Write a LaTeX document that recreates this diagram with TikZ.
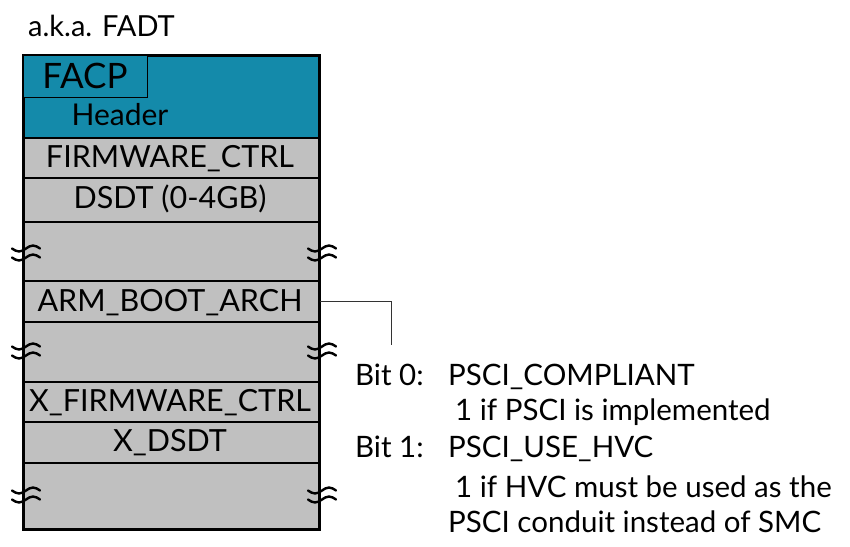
\documentclass[tikz,border=0pt]{standalone}
\usepackage{fontspec}
\setmainfont{Lato}
\definecolor{cellgray}{RGB}{192,192,192}
\definecolor{hdrteal}{RGB}{20,138,170}
\begin{document}
\begin{tikzpicture}[x=1pt,y=-1pt,
  row/.style={draw=black, line width=1.5pt, fill=cellgray, minimum width=295pt,
    inner sep=0pt, anchor=north west},
  lbl/.style={font=\fontsize{30.5}{30.5}\selectfont, anchor=base, inner sep=0pt},
  note/.style={font=\fontsize{29.5}{29.5}\selectfont, anchor=base west, inner sep=0pt},
  brk/.style={line width=2.4pt, line cap=round},
  conn/.style={draw=black!80, line width=1pt},
  brkmark/.pic={
    \draw[brk] (-14,3.5) sin (-7,6.5) cos (0,3.5) sin (7,0.5) cos (14,3.5);
    \draw[brk] (-14,-5.5) sin (-7,-2.5) cos (0,-5.5) sin (7,-8.5) cos (14,-5.5);
  }]
\useasboundingbox (0,0) rectangle (850,546);

% title
\node[note, font=\fontsize{29}{29}\selectfont] (title) at (28,36) {a.k.a. FADT};

% table rows
\node[row, fill=hdrteal, minimum height=82pt] (hdr) at (23,55) {};
\node[row, minimum height=40pt] (fw) at (23,137) {};
\node[row, minimum height=44pt] (dsdt) at (23,177) {};
\node[row, minimum height=59pt] (gapa) at (23,221) {};
\node[row, minimum height=41pt] (arm) at (23,280) {};
\node[row, minimum height=60pt] (gapb) at (23,321) {};
\node[row, minimum height=40pt] (xfw) at (23,381) {};
\node[row, minimum height=41pt] (xdsdt) at (23,421) {};
\node[row, minimum height=66pt] (gapc) at (23,462) {};
\node[draw=black, line width=1.2pt, fill=hdrteal, minimum width=124pt,
  minimum height=42pt, inner sep=0pt, anchor=north west] (facp) at (23,55) {};
\draw[line width=2.6pt] (hdr.north west) rectangle (gapc.south east);

% row labels
\node[lbl, font=\fontsize{35}{35}\selectfont] (tfacp) at (85,88) {FACP};
\node[lbl, font=\fontsize{30}{30}\selectfont] (thdr) at (120,125) {Header};
\node[lbl] (tfw) at (170,167) {FIRMWARE\_CTRL};
\node[lbl] (tdsdt) at (170,208) {DSDT (0-4GB)};
\node[lbl] (tarm) at (170,311) {ARM\_BOOT\_ARCH};
\node[lbl] (txfw) at (170,411) {X\_FIRMWARE\_CTRL};
\node[lbl] (txdsdt) at (170,451) {X\_DSDT};

% break marks on both sides
\foreach \yy in {254,352,496} {
  \pic at (26,\yy) {brkmark};
  \pic at (322,\yy) {brkmark};
}

% bit description
\coordinate (tap) at (391,345);
\draw[conn] (arm.east) -| (tap);
\node[note] (b0) at (355,385) {Bit 0:};
\node[note] (b0n) at (448,385) {PSCI\_COMPLIANT};
\node[note] (b0d) at (455,420) {1 if PSCI is implemented};
\node[note] (b1) at (355,457) {Bit 1:};
\node[note] (b1n) at (448,457) {PSCI\_USE\_HVC};
\node[note] (b1d) at (455,497) {1 if HVC must be used as the};
\node[note] (b1e) at (448,532) {PSCI conduit instead of SMC};
\end{tikzpicture}
\end{document}
